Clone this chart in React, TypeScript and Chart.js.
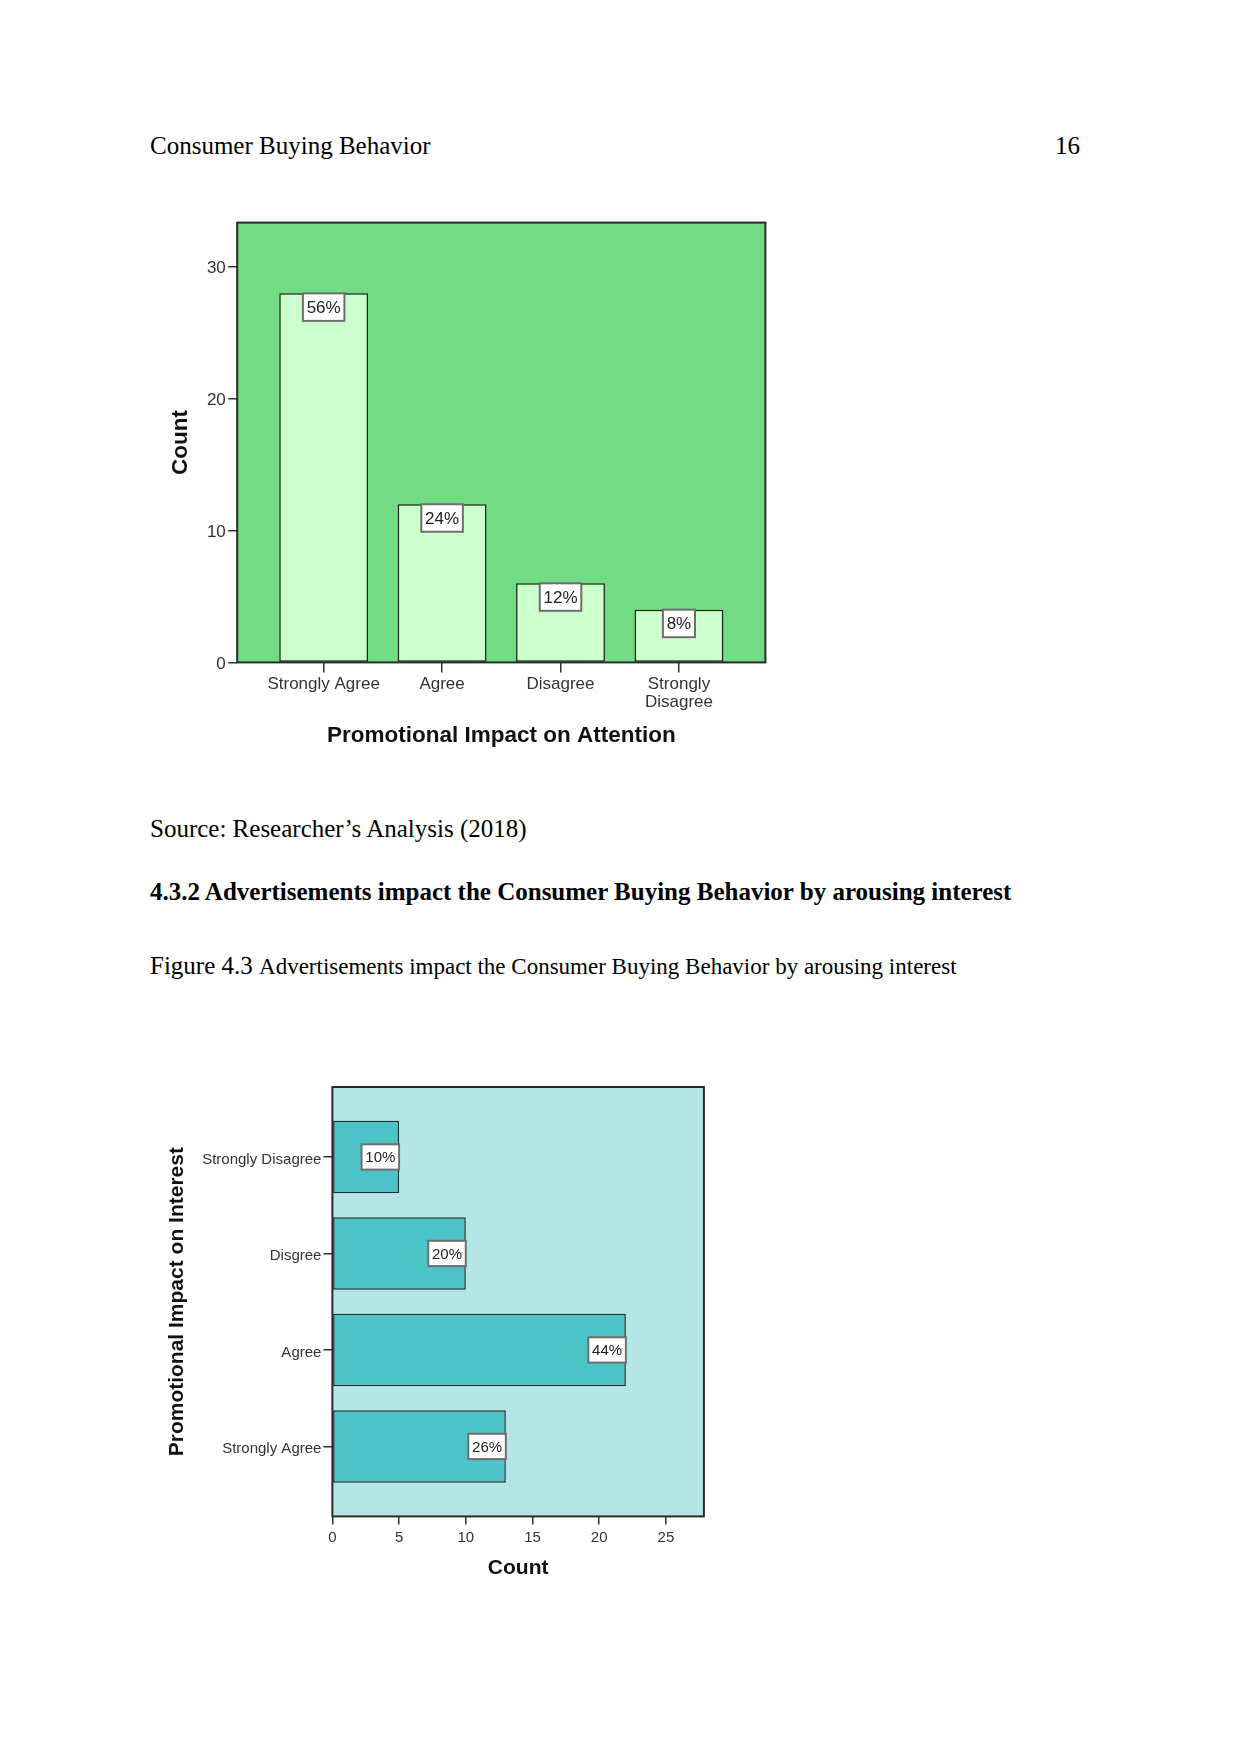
import React, { useEffect, useRef, useState } from "react";
import { Chart, registerables } from "chart.js";

Chart.register(...registerables);

// ---------- Data ----------
const attentionCategories = ["Strongly Agree", "Agree", "Disagree", "Strongly Disagree"];
const attentionTickLabels: (string | string[])[] = ["Strongly Agree", "Agree", "Disagree", ["Strongly", "Disagree"]];
const attentionCounts = [28, 12, 6, 4];
const attentionPercents = ["56%", "24%", "12%", "8%"];
const attentionYTicks = [0, 10, 20, 30];

const interestCategories = ["Strongly Agree", "Agree", "Disgree", "Strongly Disagree"];
const interestCounts = [13, 22, 10, 5];
const interestPercents = ["26%", "44%", "20%", "10%"];
const interestXTicks = [0, 5, 10, 15, 20, 25];

const SANS = "'Liberation Sans', Arial, Helvetica, sans-serif";
const SERIF = "'Liberation Serif', 'Times New Roman', serif";

// ---------- Plugins ----------
function framePlugin(id: string, bg: string) {
  return {
    id,
    beforeDraw(chart: any) {
      const { ctx, chartArea: a } = chart;
      ctx.save();
      ctx.fillStyle = bg;
      ctx.fillRect(a.left, a.top, a.right - a.left, a.bottom - a.top);
      ctx.restore();
    },
    afterDatasetsDraw(chart: any) {
      const { ctx, chartArea: a } = chart;
      ctx.save();
      ctx.strokeStyle = "#2a2a2a";
      ctx.lineWidth = 2;
      ctx.strokeRect(a.left, a.top, a.right - a.left, a.bottom - a.top);
      ctx.restore();
    },
  };
}

function percentBoxPlugin(id: string, labels: string[], fontSize: number, boxH: number) {
  return {
    id,
    afterDraw(chart: any) {
      const ctx = chart.ctx;
      const meta = chart.getDatasetMeta(0);
      ctx.save();
      ctx.font = `${fontSize}px ${SANS}`;
      meta.data.forEach((el: any, i: number) => {
        const horizontal = chart.options.indexAxis === "y";
        const text = labels[i];
        const w = ctx.measureText(text).width + 7.5;
        const h = boxH;
        let bx: number, by: number;
        if (horizontal) {
          bx = el.x - w;
          by = el.y - h / 2;
        } else {
          bx = el.x - w / 2;
          by = el.y;
        }
        ctx.fillStyle = "#ffffff";
        ctx.fillRect(bx, by, w, h);
        ctx.strokeStyle = "#6e6e6e";
        ctx.lineWidth = 2;
        ctx.strokeRect(bx, by, w, h);
        ctx.fillStyle = "#222222";
        ctx.textAlign = "center";
        ctx.textBaseline = "middle";
        ctx.fillText(text, bx + w / 2, by + h / 2 + 1);
      });
      ctx.restore();
    },
  };
}

// ---------- Chart configs ----------
function attentionConfig(): any {
  return {
    type: "bar",
    data: {
      datasets: [
        {
          data: attentionCounts.map((v, i) => ({ x: i, y: v })),
          backgroundColor: "#ccffcc",
          borderColor: "#1e1e1e",
          borderWidth: 1.5,
          borderSkipped: false,
          categoryPercentage: 1,
          barPercentage: 0.75,
        },
      ],
    },
    options: {
      responsive: false,
      animation: false,
      layout: { padding: { left: 0, right: 14.6, top: 10.4, bottom: 0 } },
      plugins: { legend: { display: false }, tooltip: { enabled: false } },
      scales: {
        x: {
          type: "linear",
          min: -0.73,
          max: 3.73,
          offset: false,
          afterBuildTicks: (s: any) => {
            s.ticks = attentionCategories.map((_, i) => ({ value: i }));
          },
          afterFit: (s: any) => {
            s.height = 97.6;
          },
          grid: { offset: false, drawOnChartArea: false, drawTicks: true, tickLength: 10, color: "#333", lineWidth: 1.5 },
          border: { display: false },
          ticks: {
            callback: (v: any) => attentionTickLabels[Math.round(v)],
            font: { family: SANS, size: 17, lineHeight: 1.08 },
            color: "#333",
            padding: 2.4,
            maxRotation: 0,
            autoSkip: false,
          },
          title: {
            display: true,
            text: "Promotional Impact on Attention",
            font: { family: SANS, size: 22.5, weight: "bold", lineHeight: 1.2 },
            color: "#111",
            padding: { top: 0, bottom: 10.3 },
          },
        },
        y: {
          type: "linear",
          min: 0,
          max: 33.37,
          afterBuildTicks: (s: any) => {
            s.ticks = attentionYTicks.map((v) => ({ value: v }));
          },
          afterFit: (s: any) => {
            s.width = 87.2;
          },
          grid: { drawOnChartArea: false, drawTicks: true, tickLength: 9, color: "#333", lineWidth: 1.5 },
          border: { display: false },
          ticks: {
            font: { family: SANS, size: 17 },
            color: "#333",
            padding: 2.4,
            labelOffset: 1.5,
          },
          title: {
            display: true,
            text: "Count",
            font: { family: SANS, size: 22.5, weight: "bold", lineHeight: 1.2 },
            color: "#111",
            padding: { top: 17.5, bottom: 0 },
          },
        },
      },
    },
    plugins: [framePlugin("frame1", "#72dc84"), percentBoxPlugin("pct1", attentionPercents, 17, 27.5)],
  };
}

function interestConfig(): any {
  return {
    type: "bar",
    data: {
      datasets: [
        {
          data: interestCounts.map((v, i) => ({ x: v, y: i })),
          backgroundColor: "#4cc3c6",
          borderColor: "#1e2e2e",
          borderWidth: 1.5,
          borderSkipped: false,
          categoryPercentage: 1,
          barPercentage: 0.75,
        },
      ],
    },
    options: {
      indexAxis: "y",
      responsive: false,
      animation: false,
      layout: { padding: { left: 0, right: 16.1, top: 10.6, bottom: 0 } },
      plugins: { legend: { display: false }, tooltip: { enabled: false } },
      scales: {
        x: {
          type: "linear",
          min: 0,
          max: 27.85,
          afterBuildTicks: (s: any) => {
            s.ticks = interestXTicks.map((v) => ({ value: v }));
          },
          afterFit: (s: any) => {
            s.height = 79.6;
          },
          grid: { drawOnChartArea: false, drawTicks: true, tickLength: 8, color: "#333", lineWidth: 1.5 },
          border: { display: false },
          ticks: {
            font: { family: SANS, size: 15, lineHeight: 1.1 },
            color: "#333",
            padding: 5,
            maxRotation: 0,
            autoSkip: false,
          },
          title: {
            display: true,
            text: "Count",
            font: { family: SANS, size: 21, weight: "bold", lineHeight: 1.2 },
            color: "#111",
            padding: { top: 0, bottom: 14.7 },
          },
        },
        y: {
          type: "linear",
          min: -0.725,
          max: 3.725,
          offset: false,
          afterBuildTicks: (s: any) => {
            s.ticks = interestCategories.map((_, i) => ({ value: i }));
          },
          afterFit: (s: any) => {
            s.width = 182.4;
          },
          grid: { offset: false, drawOnChartArea: false, drawTicks: true, tickLength: 9, color: "#333", lineWidth: 1.5 },
          border: { display: false },
          ticks: {
            callback: (v: any) => interestCategories[Math.round(v)],
            font: { family: SANS, size: 15 },
            color: "#333",
            padding: 2,
            labelOffset: 2.5,
            autoSkip: false,
          },
          title: {
            display: true,
            text: "Promotional Impact on Interest",
            font: { family: SANS, size: 21, weight: "bold", lineHeight: 1.2 },
            color: "#111",
            padding: { top: 14.9, bottom: 0 },
          },
        },
      },
    },
    plugins: [framePlugin("frame2", "#b4e6e6"), percentBoxPlugin("pct2", interestPercents, 15, 25.3)],
  };
}

// ---------- Components ----------
function ChartBox({ makeConfig, left, top, width, height }: any) {
  const ref = useRef<HTMLCanvasElement | null>(null);
  const [err, setErr] = useState<string>("");
  useEffect(() => {
    if (!ref.current) return;
    let chart: any = null;
    try {
      chart = new Chart(ref.current, makeConfig());
    } catch (e: any) {
      setErr(String(e && e.stack ? e.stack : e));
    }
    return () => {
      if (chart) chart.destroy();
    };
  }, []);
  return (
    <div style={{ position: "absolute", left, top, width, height }}>
      <canvas ref={ref} width={width} height={height} style={{ width, height, display: "block" }} />
      {err ? <pre style={{ position: "absolute", left: 0, top: 0, fontSize: 12, color: "red", whiteSpace: "pre-wrap" }}>{err}</pre> : null}
    </div>
  );
}

const textBase: any = {
  position: "absolute",
  fontFamily: SERIF,
  fontSize: 25,
  lineHeight: "25px",
  color: "#000",
  whiteSpace: "nowrap",
  margin: 0,
};

export default function App() {
  return (
    <div style={{ position: "relative", width: 1241, height: 1754, margin: -8, background: "#fff" }}>
      <div style={{ ...textBase, left: 150, top: 133.4 }}>Consumer Buying Behavior</div>
      <div style={{ ...textBase, left: 980, top: 133.4, width: 100, textAlign: "right" }}>16</div>

      <ChartBox makeConfig={attentionConfig} left={150} top={210} width={630} height={550} />

      <div style={{ ...textBase, left: 150, top: 815.8 }}>Source: Researcher’s Analysis (2018)</div>
      <div style={{ ...textBase, left: 150, top: 879.1, fontWeight: "bold" }}>
        4.3.2 Advertisements impact the Consumer Buying Behavior by arousing interest
      </div>
      <div style={{ ...textBase, left: 150, top: 953.4 }}>
        Figure 4.3 <span style={{ fontSize: 23 }}>Advertisements impact the Consumer Buying Behavior by arousing interest</span>
      </div>

      <ChartBox makeConfig={interestConfig} left={150} top={1076} width={570} height={520} />
    </div>
  );
}
